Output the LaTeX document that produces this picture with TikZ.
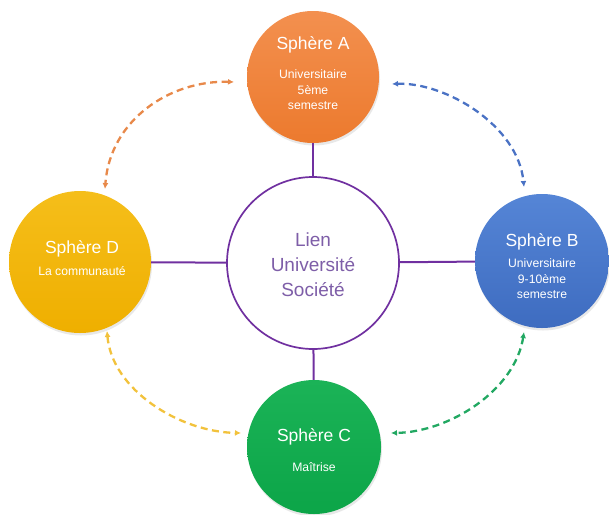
\documentclass[tikz,border=0pt]{standalone}
\usepackage{fontspec}
\setmainfont{Liberation Sans}
\usetikzlibrary{arrows.meta,shadows}
\definecolor{cOrT}{HTML}{F3904F}
\definecolor{cOr}{HTML}{EC7A2E}
\definecolor{cBlT}{HTML}{5585D6}
\definecolor{cBl}{HTML}{3E6CC0}
\definecolor{cYeT}{HTML}{F5BE1A}
\definecolor{cYe}{HTML}{EFAF00}
\definecolor{cGrT}{HTML}{1BB357}
\definecolor{cGr}{HTML}{0CA548}
\definecolor{cPur}{HTML}{7030A0}
\definecolor{cPurT}{HTML}{7E5EA8}
\definecolor{aOr}{HTML}{E8894A}
\definecolor{aBl}{HTML}{4A72C4}
\definecolor{aYe}{HTML}{F2C23C}
\definecolor{aGr}{HTML}{22A862}
\begin{document}
\begin{tikzpicture}[x=1pt,y=-1pt,
  sphere/.style={circle,inner sep=0pt,minimum size=#1,
    drop shadow={opacity=0.18,shadow xshift=1pt,shadow yshift=-2.5pt}},
  ttl/.style={text=white,inner sep=0pt,font=\fontsize{17.5}{20}\selectfont},
  subt/.style={text=white,inner sep=0pt,align=center,font=\fontsize{12.2}{15.5}\selectfont},
  link/.style={draw=cPur,line width=2pt},
  dar/.style={dash pattern=on 7pt off 4.5pt,line width=2.3pt,
    {Latex[length=6pt,width=6pt]}-{Latex[length=6pt,width=6pt]}}]
\useasboundingbox (0,0) rectangle (609,514);

% outer spheres
\node[sphere=132pt,top color=cOrT,bottom color=cOr] (A) at (313,77) {};
\node[sphere=134pt,top color=cBlT,bottom color=cBl] (B) at (542,261) {};
\node[sphere=142pt,top color=cYeT,bottom color=cYe] (D) at (80,262) {};
\node[sphere=134pt,top color=cGrT,bottom color=cGr] (C) at (314,447) {};

% central circle
\node[circle,draw=cPur,line width=1.7pt,fill=white,minimum size=172pt,inner sep=0pt] (L) at (313,263) {};

% radial links
\draw[link] (A) -- (L);
\draw[link] (L) -- (B);
\draw[link] (L) -- (C);
\draw[link] (D) -- (L);

% texts
\node[text=cPurT,align=center,inner sep=0pt,font=\fontsize{19}{25}\selectfont] (Lt) at (313,265) {Lien\\Université\\Société};

\node[ttl] (At) at (313,45) {Sphère A};
\node[subt] (As) at (313,90) {Universitaire\\5ème\\semestre};

\node[ttl] (Bt) at (542,242) {Sphère B};
\node[subt] (Bs) at (542,279) {Universitaire\\9-10ème\\semestre};

\node[ttl] (Dt) at (82,249) {Sphère D};
\node[subt] (Ds) at (82,271) {La communauté};

\node[ttl] (Ct) at (314,437) {Sphère C};
\node[subt] (Cs) at (314,467) {Maîtrise};

% arrow end points
\coordinate (oa) at (234,82);
\coordinate (od) at (105,189);
\coordinate (ba) at (392,84);
\coordinate (bb) at (524,187);
\coordinate (yd) at (107,331);
\coordinate (yc) at (241,433);
\coordinate (gb) at (524,332);
\coordinate (gc) at (391,433);

% dashed double arrows
\draw[dar,draw=aOr,color=aOr] (oa) .. controls (170,80) and (110,120) .. (od);
\draw[dar,draw=aBl,color=aBl] (ba) .. controls (445,82) and (518,125) .. (bb);
\draw[dar,draw=aYe,color=aYe] (yd) .. controls (112,390) and (180,432) .. (yc);
\draw[dar,draw=aGr,color=aGr] (gb) .. controls (515,390) and (450,432) .. (gc);
\end{tikzpicture}
\end{document}
